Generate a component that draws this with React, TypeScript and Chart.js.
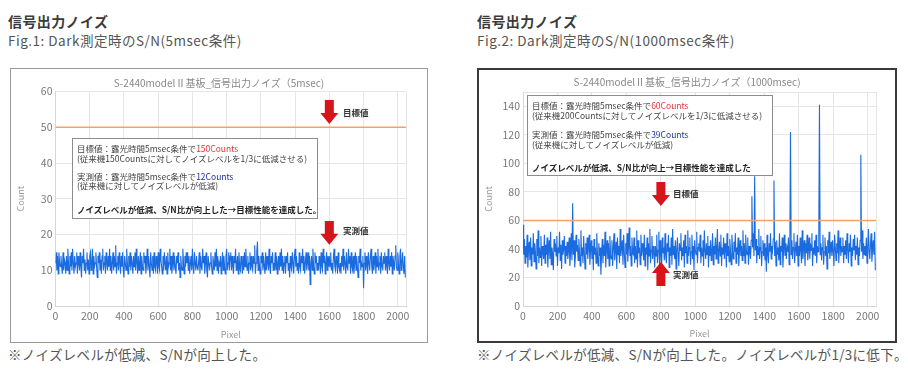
import React, { useEffect, useRef } from 'react';
import { Chart, registerables } from 'chart.js';

Chart.register(...registerables);

const FONT = "'Noto Sans CJK JP', 'Noto Sans', sans-serif";

// ---- data ----
const PIXEL_STEP = 4;
const X_MAX = 2048;
const X_TICKS = [0, 200, 400, 600, 800, 1000, 1200, 1400, 1600, 1800, 2000];

const LEFT_Y_MAX = 60;
const LEFT_Y_TICKS = [0, 10, 20, 30, 40, 50, 60];
const LEFT_TARGET = 50;
const LEFT_NOISE = [
  12, 15, 10, 14, 9, 15, 12, 11, 14, 11, 9, 15, 10, 13, 12, 9,
  14, 10, 16, 12, 9, 14, 11, 15, 10, 16, 12, 9, 14, 11, 12, 15,
  9, 14, 12, 10, 15, 11, 8, 14, 12, 16, 10, 13, 9, 12, 15, 10,
  13, 9, 14, 15, 10, 12, 16, 9, 14, 11, 12, 15, 11, 8, 14, 12,
  15, 10, 13, 9, 14, 16, 10, 12, 14, 9, 15, 12, 10, 14, 11, 16,
  10, 14, 9, 12, 15, 10, 14, 11, 17, 9, 12, 14, 10, 15, 12, 9,
  14, 11, 15, 10, 8, 14, 12, 10, 16, 12, 9, 14, 11, 15, 10, 14,
  12, 9, 14, 11, 15, 10, 16, 12, 9, 14, 10, 12, 15, 9, 14, 11,
  10, 15, 12, 14, 9, 12, 16, 10, 14, 11, 8, 15, 12, 10, 14, 9,
  15, 11, 10, 14, 12, 9, 15, 11, 10, 16, 13, 11, 9, 14, 10, 15,
  12, 10, 14, 9, 15, 11, 12, 16, 10, 14, 9, 12, 15, 10, 14, 11,
  9, 14, 12, 15, 10, 12, 8, 14, 11, 10, 16, 12, 9, 14, 11, 15,
  12, 15, 10, 14, 9, 12, 14, 10, 16, 11, 9, 15, 12, 10, 14, 11,
  10, 12, 15, 9, 14, 11, 10, 16, 12, 14, 9, 12, 15, 10, 8, 14,
  14, 10, 12, 15, 11, 9, 14, 12, 10, 15, 11, 16, 10, 14, 9, 12,
  11, 14, 9, 12, 15, 10, 14, 11, 9, 14, 16, 10, 12, 15, 10, 14,
  15, 10, 14, 11, 9, 14, 12, 16, 10, 12, 14, 9, 15, 11, 10, 14,
  12, 9, 14, 10, 15, 11, 16, 12, 10, 14, 9, 12, 15, 10, 14, 11,
  10, 14, 12, 17, 9, 12, 15, 18, 10, 14, 11, 9, 14, 12, 15, 10,
  14, 11, 9, 15, 10, 14, 12, 10, 16, 11, 9, 14, 12, 15, 10, 12,
  11, 15, 10, 14, 9, 12, 14, 10, 15, 11, 16, 10, 14, 9, 12, 14,
  9, 14, 12, 15, 10, 12, 8, 14, 11, 10, 15, 12, 9, 14, 16, 11,
  14, 10, 12, 9, 15, 11, 10, 14, 12, 16, 10, 14, 9, 12, 15, 10,
  12, 15, 10, 14, 6, 12, 14, 10, 16, 11, 9, 15, 12, 14, 10, 12,
  10, 14, 12, 9, 15, 11, 10, 16, 12, 14, 9, 12, 15, 10, 14, 11,
  14, 11, 15, 10, 12, 9, 14, 16, 11, 10, 14, 12, 9, 15, 11, 10,
  12, 9, 14, 11, 16, 10, 14, 12, 9, 15, 11, 10, 16, 12, 14, 9,
  15, 11, 10, 14, 9, 12, 15, 10, 14, 11, 8, 14, 12, 16, 10, 12,
  11, 14, 5, 12, 15, 10, 14, 11, 9, 15, 12, 10, 14, 16, 11, 9,
  14, 10, 12, 15, 9, 14, 11, 16, 10, 12, 14, 9, 15, 11, 10, 14,
  12, 15, 10, 14, 11, 9, 16, 12, 10, 14, 11, 15, 9, 14, 12, 10,
  14, 17, 11, 10, 15, 12, 9, 14, 16, 10, 12, 15, 11, 9, 14, 8,
];

const RIGHT_Y_MAX = 150;
const RIGHT_Y_TICKS = [0, 20, 40, 60, 80, 100, 120, 140];
const RIGHT_TARGET = 60;
const RIGHT_NOISE = [
  57, 36, 47, 30, 42, 34, 50, 27, 39, 45, 32, 48, 28, 41, 36, 51,
  31, 44, 38, 26, 47, 35, 53, 30, 41, 34, 49, 28, 42, 37, 33, 50,
  30, 43, 36, 48, 27, 39, 46, 33, 52, 29, 41, 36, 25, 47, 38, 44,
  35, 49, 28, 41, 37, 52, 32, 43, 26, 46, 36, 40, 49, 30, 42, 35,
  45, 33, 39, 48, 28, 37, 51, 32, 72, 36, 46, 27, 35, 50, 38, 43,
  32, 47, 38, 28, 53, 35, 41, 30, 49, 37, 26, 44, 36, 48, 33, 41,
  50, 29, 39, 46, 33, 42, 25, 47, 36, 41, 30, 51, 37, 28, 44, 35,
  41, 22, 37, 47, 30, 43, 35, 52, 27, 39, 46, 33, 44, 28, 49, 36,
  33, 46, 28, 41, 51, 32, 39, 45, 26, 48, 36, 42, 30, 54, 35, 41,
  46, 29, 50, 37, 27, 44, 36, 51, 31, 41, 55, 35, 42, 28, 48, 37,
  36, 48, 30, 42, 33, 53, 27, 46, 37, 41, 29, 50, 35, 44, 39, 32,
  50, 28, 41, 36, 48, 25, 44, 35, 54, 30, 39, 49, 33, 42, 37, 27,
  42, 35, 50, 30, 39, 52, 28, 46, 36, 24, 48, 37, 41, 32, 51, 35,
  30, 44, 38, 50, 27, 41, 35, 48, 29, 54, 36, 42, 33, 46, 26, 39,
  48, 36, 28, 44, 39, 51, 32, 41, 35, 46, 27, 50, 37, 42, 30, 53,
  35, 41, 48, 29, 38, 50, 33, 42, 25, 46, 39, 36, 52, 30, 41, 44,
  38, 50, 30, 41, 35, 46, 28, 53, 39, 33, 44, 36, 49, 27, 42, 35,
  46, 32, 39, 51, 29, 42, 36, 48, 33, 41, 54, 30, 38, 45, 35, 50,
  28, 41, 36, 48, 33, 44, 39, 27, 51, 35, 42, 31, 47, 38, 29, 50,
  39, 33, 45, 38, 51, 30, 41, 36, 48, 28, 39, 46, 35, 42, 32, 53,
  35, 44, 30, 50, 39, 36, 48, 29, 42, 38, 33, 46, 77, 41, 51, 35,
  91, 39, 47, 30, 42, 36, 54, 33, 41, 49, 28, 38, 46, 35, 44, 32,
  41, 24, 50, 36, 30, 44, 38, 51, 33, 42, 39, 47, 88, 35, 45, 28,
  46, 36, 41, 32, 51, 29, 42, 38, 48, 27, 39, 50, 35, 44, 33, 41,
  38, 48, 29, 42, 122, 36, 46, 33, 41, 51, 30, 39, 45, 35, 50, 28,
  42, 35, 48, 38, 30, 53, 33, 41, 46, 28, 44, 37, 50, 32, 39, 48,
  33, 44, 39, 51, 28, 41, 36, 46, 35, 50, 30, 42, 38, 48, 141, 36,
  44, 32, 41, 50, 29, 38, 48, 35, 42, 26, 46, 37, 52, 33, 39, 45,
  35, 46, 38, 28, 50, 41, 32, 44, 37, 53, 30, 41, 48, 35, 42, 38,
  48, 30, 42, 36, 46, 33, 51, 39, 30, 44, 38, 50, 28, 41, 35, 47,
  39, 50, 32, 42, 36, 48, 29, 41, 35, 46, 106, 38, 53, 33, 44, 36,
  42, 35, 48, 30, 41, 54, 38, 33, 44, 51, 31, 39, 46, 36, 52, 25,
];

// annotation arrows (data units): x position, tail value, tip value
const LEFT_ARROWS = [
  { x: 1600, from: 57.6, to: 50.9 },
  { x: 1600, from: 23.8, to: 17.1 },
];
const RIGHT_ARROWS = [
  { x: 800, from: 86.9, to: 70.1 },
  { x: 800, from: 14.0, to: 30.8 },
];

type Arrow = { x: number; from: number; to: number };

function makeArrowPlugin(arrows: Arrow[]) {
  return {
    id: 'redArrows',
    afterDatasetsDraw(chart: any) {
      const { ctx } = chart;
      const xs = chart.scales.x;
      const ys = chart.scales.y;
      ctx.save();
      for (const a of arrows) {
        const cx = xs.getPixelForValue(a.x);
        const y0 = ys.getPixelForValue(a.from);
        const y1 = ys.getPixelForValue(a.to);
        const dir = Math.sign(y1 - y0);
        const headLen = 11;
        const shaftW = 4.5;
        const headW = 9;
        const yh = y1 - dir * headLen;
        ctx.fillStyle = '#d8141b';
        ctx.beginPath();
        ctx.moveTo(cx - shaftW, y0);
        ctx.lineTo(cx + shaftW, y0);
        ctx.lineTo(cx + shaftW, yh);
        ctx.lineTo(cx + headW, yh);
        ctx.lineTo(cx, y1);
        ctx.lineTo(cx - headW, yh);
        ctx.lineTo(cx - shaftW, yh);
        ctx.closePath();
        ctx.fill();
      }
      ctx.restore();
    },
  };
}

type ChartProps = {
  values: number[];
  yMax: number;
  yTicks: number[];
  target: number;
  arrows: Arrow[];
  width: number;
  height: number;
  padTop: number;
  padRight: number;
  yWidth: number;
  xHeight: number;
};

function NoiseChart(p: ChartProps) {
  const ref = useRef<HTMLCanvasElement>(null);
  useEffect(() => {
    const tickFont = { family: FONT, size: 10.5 };
    const titleFont = { family: FONT, size: 9 };
    const chart = new Chart(ref.current as HTMLCanvasElement, {
      type: 'line',
      data: {
        datasets: [
          {
            data: [
              { x: 0, y: p.target },
              { x: X_MAX, y: p.target },
            ],
            borderColor: '#f2a26a',
            borderWidth: 1.5,
            pointRadius: 0,
            order: 0,
          },
          {
            data: p.values.map((v, i) => ({ x: i * PIXEL_STEP, y: v })),
            borderColor: '#1a6ae0',
            borderWidth: 1.1,
            pointRadius: 0,
            tension: 0,
            order: 1,
          },
        ],
      },
      options: {
        animation: false,
        responsive: false,
        events: [],
        layout: { padding: { top: p.padTop, right: p.padRight, left: 0, bottom: 0 } },
        plugins: {
          legend: { display: false },
          tooltip: { enabled: false },
          title: { display: false },
        },
        scales: {
          x: {
            type: 'linear',
            min: 0,
            max: X_MAX,
            afterBuildTicks: (s: any) => {
              s.ticks = [...X_TICKS, X_MAX].map((v) => ({ value: v }));
            },
            afterFit: (s: any) => {
              s.height = p.xHeight;
            },
            ticks: {
              autoSkip: false,
              maxRotation: 0,
              minRotation: 0,
              padding: 4,
              color: '#777',
              font: tickFont,
              callback: (v: any) => (X_TICKS.includes(Number(v)) ? String(v) : ''),
            },
            grid: { color: '#e6e6e6', drawTicks: false },
            border: { color: '#d6d6d6' },
            title: {
              display: true,
              text: 'Pixel',
              color: '#999',
              font: titleFont,
              padding: { top: 0, bottom: 2 },
            },
          },
          y: {
            type: 'linear',
            min: 0,
            max: p.yMax,
            afterBuildTicks: (s: any) => {
              const vals = p.yTicks.includes(p.yMax) ? p.yTicks : [...p.yTicks, p.yMax];
              s.ticks = vals.map((v) => ({ value: v }));
            },
            afterFit: (s: any) => {
              s.width = p.yWidth;
            },
            ticks: {
              padding: 3,
              color: '#777',
              font: tickFont,
              callback: (v: any) => (p.yTicks.includes(Number(v)) ? String(v) : ''),
            },
            grid: { color: '#e6e6e6', drawTicks: false },
            border: { color: '#d6d6d6' },
            title: {
              display: true,
              text: 'Count',
              color: '#999',
              font: titleFont,
              padding: { top: 4, bottom: 0 },
            },
          },
        },
      },
      plugins: [makeArrowPlugin(p.arrows)],
    } as any);
    return () => chart.destroy();
  }, []);
  return (
    <canvas
      ref={ref}
      width={p.width}
      height={p.height}
      style={{ display: 'block', width: p.width, height: p.height }}
    />
  );
}

const abs = (left: number, top: number, extra: React.CSSProperties = {}): React.CSSProperties => ({
  position: 'absolute',
  left,
  top,
  whiteSpace: 'nowrap',
  ...extra,
});

const headStyle: React.CSSProperties = {
  fontFamily: FONT,
  fontSize: 13.5,
  lineHeight: '18px',
};

function NoteBox(props: {
  left: number;
  top: number;
  tops: number[];
  line1: string;
  val1: string;
  line2: string;
  line3: string;
  val2: string;
  line4: string;
  line5: string;
}) {
  const t = props.tops;
  const txt: React.CSSProperties = {
    fontFamily: FONT,
    fontSize: 8.5,
    lineHeight: '11px',
    color: '#444',
  };
  return (
    <div
      style={abs(props.left, props.top, {
        width: 244,
        height: 79,
        border: '1px solid #8c8c8c',
        background: '#fff',
      })}
    >
      <div style={abs(4, t[0], txt)}>
        {props.line1}
        <span style={{ color: '#e8343a' }}>{props.val1}</span>
      </div>
      <div style={abs(4, t[1], txt)}>{props.line2}</div>
      <div style={abs(4, t[2], txt)}>
        {props.line3}
        <span style={{ color: '#1e2fa8' }}>{props.val2}</span>
      </div>
      <div style={abs(4, t[3], txt)}>{props.line4}</div>
      <div style={abs(4, t[4], { ...txt, fontSize: 8.5, fontWeight: 700, color: '#222' })}>
        {props.line5}
      </div>
    </div>
  );
}

export default function App() {
  const chartTitle: React.CSSProperties = {
    fontFamily: FONT,
    fontSize: 10,
    lineHeight: '12px',
    color: '#888',
    textAlign: 'center',
    width: 416,
  };
  const arrowLabel: React.CSSProperties = {
    fontFamily: FONT,
    fontSize: 8.5,
    fontWeight: 700,
    lineHeight: '11px',
    color: '#333',
  };
  const heading: React.CSSProperties = {
    ...headStyle,
    fontSize: 14,
    letterSpacing: '0.4px',
    fontWeight: 700,
    color: '#3a3a3a',
  };
  const figLine: React.CSSProperties = { ...headStyle, color: '#555', letterSpacing: '0.5px' };
  const caption: React.CSSProperties = { ...headStyle, color: '#555', letterSpacing: '0.3px' };
  return (
    <div
      style={{
        position: 'absolute',
        left: 0,
        top: 0,
        width: 908,
        height: 373,
        background: '#fff',
        fontFamily: FONT,
        overflow: 'hidden',
      }}
    >
      {/* Left panel */}
      <div style={abs(8, 12, heading)}>信号出力ノイズ</div>
      <div style={abs(8, 31, figLine)}>Fig.1: Dark測定時のS/N(5msec条件)</div>
      <div
        style={abs(10, 68, {
          width: 416,
          height: 273,
          border: '1px solid #9a9a9a',
          background: '#fff',
        })}
      >
        <NoiseChart
          values={LEFT_NOISE}
          yMax={LEFT_Y_MAX}
          yTicks={LEFT_Y_TICKS}
          target={LEFT_TARGET}
          arrows={LEFT_ARROWS}
          width={416}
          height={273}
          padTop={22.5}
          padRight={21}
          yWidth={44.5}
          xHeight={36}
        />
        <div style={abs(0, 8, chartTitle)}>S-2440modelⅡ基板_信号出力ノイズ（5msec)</div>
      </div>
      <NoteBox
        left={72}
        top={138}
        tops={[3.5, 14, 31.5, 40.5, 65]}
        line1="目標値：露光時間5msec条件で"
        val1="150Counts"
        line2="(従来機150Countsに対してノイズレベルを1/3に低減させる)"
        line3="実測値：露光時間5msec条件で"
        val2="12Counts"
        line4="(従来機に対してノイズレベルが低減)"
        line5="ノイズレベルが低減、S/N比が向上した→目標性能を達成した。"
      />
      <div style={abs(343, 106.5, arrowLabel)}>目標値</div>
      <div style={abs(343, 224.5, arrowLabel)}>実測値</div>
      <div style={abs(8, 345, caption)}>※ノイズレベルが低減、S/Nが向上した。</div>

      {/* Right panel */}
      <div style={abs(477, 12, heading)}>信号出力ノイズ</div>
      <div style={abs(477, 31, figLine)}>Fig.2: Dark測定時のS/N(1000msec条件)</div>
      <div
        style={abs(477, 68, {
          width: 416,
          height: 271,
          border: '2px solid #3a3a3a',
          background: '#fff',
        })}
      >
        <NoiseChart
          values={RIGHT_NOISE}
          yMax={RIGHT_Y_MAX}
          yTicks={RIGHT_Y_TICKS}
          target={RIGHT_TARGET}
          arrows={RIGHT_ARROWS}
          width={416}
          height={271}
          padTop={22}
          padRight={19}
          yWidth={44}
          xHeight={35}
        />
        <div style={abs(0, 6, chartTitle)}>S-2440modelⅡ基板_信号出力ノイズ（1000msec)</div>
      </div>
      <NoteBox
        left={527}
        top={94.5}
        tops={[4, 14, 33.5, 43.5, 66]}
        line1="目標値：露光時間5msec条件で"
        val1="60Counts"
        line2="(従来機200Countsに対してノイズレベルを1/3に低減させる)"
        line3="実測値：露光時間5msec条件で"
        val2="39Counts"
        line4="(従来機に対してノイズレベルが低減)"
        line5="ノイズレベルが低減、S/N比が向上→目標性能を達成した"
      />
      <div style={abs(673, 187.5, arrowLabel)}>目標値</div>
      <div style={abs(673, 268.5, arrowLabel)}>実測値</div>
      <div style={abs(477, 345, caption)}>
        ※ノイズレベルが低減、S/Nが向上した。ノイズレベルが1/3に低下。
      </div>
    </div>
  );
}
